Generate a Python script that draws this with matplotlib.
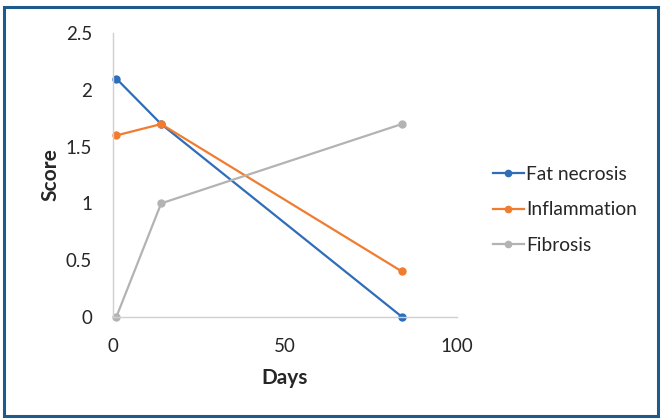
import matplotlib
matplotlib.use("Agg")
import matplotlib.pyplot as plt
from matplotlib.patches import Rectangle

plt.rcParams['font.family'] = ['Lato', 'DejaVu Sans']

days = [1, 14, 84]
fat_necrosis = [2.1, 1.7, 0.0]
inflammation = [1.6, 1.7, 0.4]
fibrosis = [0.0, 1.0, 1.7]
series_names = ["Fat necrosis", "Inflammation", "Fibrosis"]
colors = ["#2E6DB8", "#F07C2F", "#B3B3B3"]
x_ticks = [0, 50, 100]
y_ticks = [0, 0.5, 1, 1.5, 2, 2.5]
y_tick_labels = ["0", "0.5", "1", "1.5", "2", "2.5"]

fig = plt.figure(figsize=(6.61, 4.19), dpi=100)
ax = fig.add_axes([0.171, 0.2442, 0.520, 0.676])

for vals, name, c in zip([fat_necrosis, inflammation, fibrosis], series_names, colors):
    ax.plot(days, vals, color=c, lw=1.6, marker='o', ms=5, label=name, clip_on=False)

ax.set_xlim(0, 100)
ax.set_ylim(0, 2.5)
ax.set_xticks(x_ticks)
ax.set_yticks(y_ticks)
ax.set_yticklabels(y_tick_labels)
for s in ['top', 'right']:
    ax.spines[s].set_visible(False)
for s in ['left', 'bottom']:
    ax.spines[s].set_color('#D0D0D0')
    ax.spines[s].set_linewidth(1.0)
ax.tick_params(length=0, labelsize=13.5, colors='#262626')
ax.tick_params(axis='x', pad=15)
ax.tick_params(axis='y', pad=15)
ax.set_xlabel("Days", fontsize=15, fontweight='bold', color='#262626', labelpad=10)
ax.set_ylabel("Score", fontsize=15, fontweight='bold', color='#262626', labelpad=4)

leg = ax.legend(loc='center left', bbox_to_anchor=(1.055, 0.377), frameon=False,
                fontsize=13.8, handlelength=1.6, handletextpad=0.15, labelspacing=0.95,
                markerscale=0.9)
for t in leg.get_texts():
    t.set_color('#262626')

fig.patches.append(Rectangle((0.006, 0.007), 0.989, 0.976, transform=fig.transFigure,
                             fill=False, edgecolor='#1E5B8A', linewidth=2.2))

fig.savefig("out.png", dpi=100)
